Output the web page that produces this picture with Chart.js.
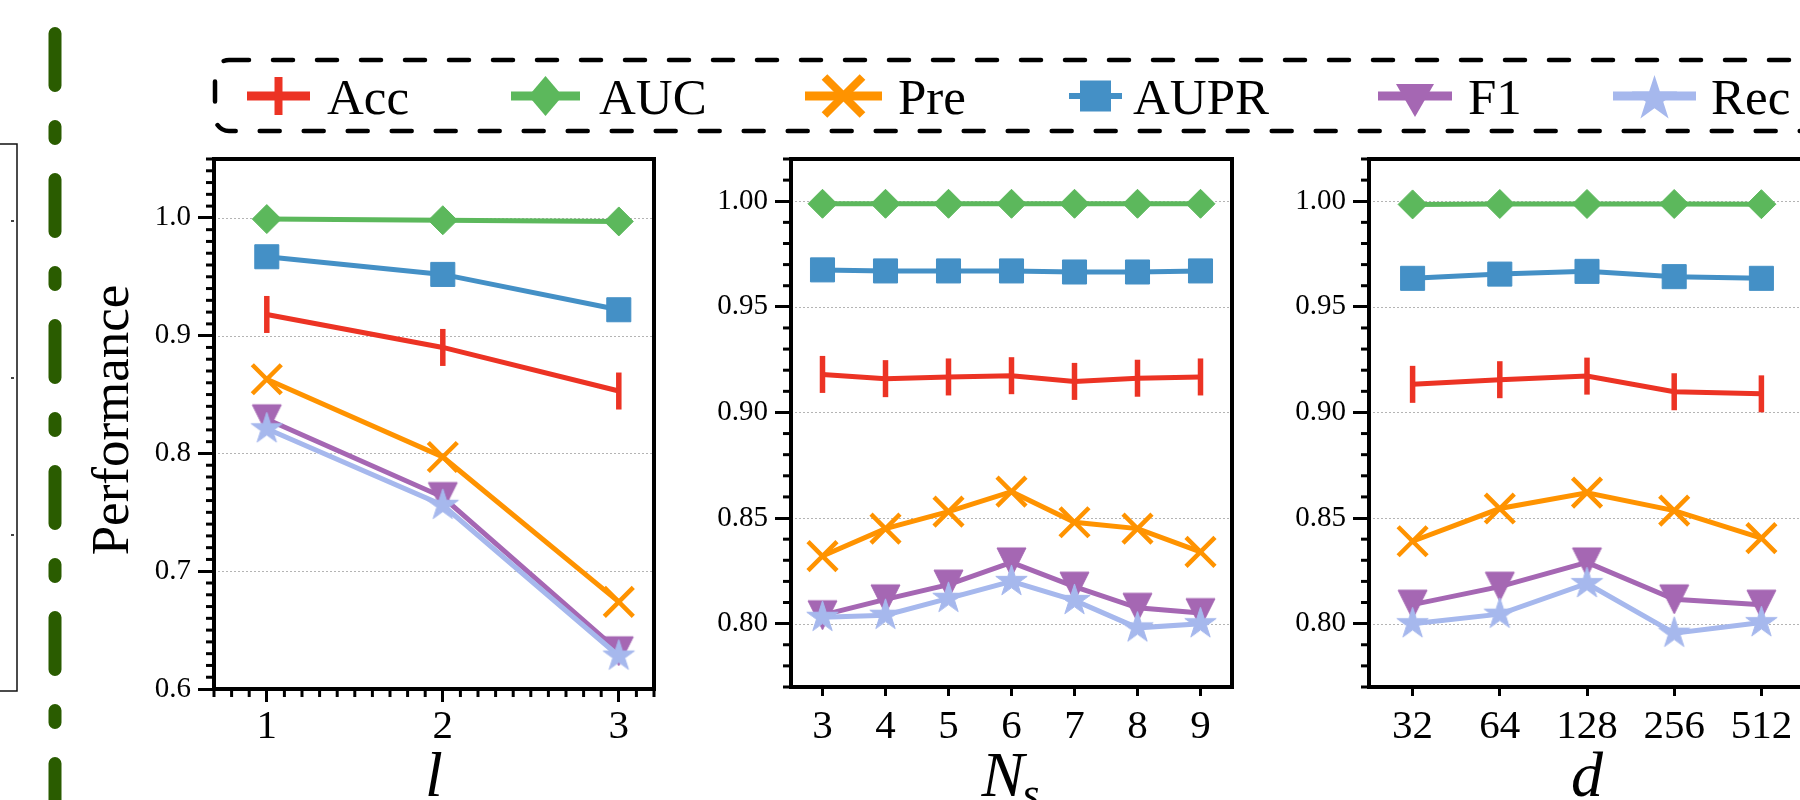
<!DOCTYPE html>
<html>
<head>
<meta charset="utf-8">
<script src="https://cdn.jsdelivr.net/npm/chart.js@4.4.1/dist/chart.umd.min.js"></script>
<style>
html,body{margin:0;padding:0;background:#fff;overflow:hidden;width:1800px;height:800px;position:relative;}
canvas{position:absolute;left:0;top:0;}
</style>
</head>
<body>
<canvas id="deco" width="1800" height="800"></canvas>
<canvas id="p1" width="1800" height="800"></canvas>
<canvas id="p2" width="1800" height="800"></canvas>
<canvas id="p3" width="1830" height="800"></canvas>
<script>
// ---------------- DATA ----------------
const lValues  = [1, 2, 3];
const nsLabels = ['3', '4', '5', '6', '7', '8', '9'];
const dLabels  = ['32', '64', '128', '256', '512'];

// panel 1 : l
const accL  = [0.918, 0.890, 0.853];
const aucL  = [0.999, 0.998, 0.997];
const preL  = [0.863, 0.797, 0.674];
const auprL = [0.967, 0.952, 0.922];
const f1L   = [0.829, 0.763, 0.632];
const recL  = [0.821, 0.756, 0.628];

// panel 2 : N_s
const accN  = [0.918, 0.916, 0.9168, 0.9174, 0.9147, 0.9162, 0.9168];
const aucN  = [0.9988, 0.9988, 0.9988, 0.9988, 0.9988, 0.9988, 0.9988];
const preN  = [0.832, 0.845, 0.853, 0.8625, 0.848, 0.845, 0.834];
const auprN = [0.9675, 0.967, 0.967, 0.967, 0.9665, 0.9665, 0.967];
const f1N   = [0.804, 0.8115, 0.8185, 0.829, 0.8175, 0.8075, 0.805];
const recN  = [0.803, 0.804, 0.812, 0.820, 0.811, 0.798, 0.800];

// panel 3 : d
const accD  = [0.9133, 0.9155, 0.9172, 0.9098, 0.9088];
const aucD  = [0.9985, 0.9987, 0.9987, 0.9987, 0.9986];
const preD  = [0.839, 0.8545, 0.862, 0.8535, 0.8405];
const auprD = [0.9635, 0.9655, 0.9668, 0.9643, 0.9635];
const f1D   = [0.809, 0.8175, 0.829, 0.8115, 0.809];
const recD  = [0.800, 0.8045, 0.819, 0.7955, 0.8005];

const yTicksL = [0.6, 0.7, 0.8, 0.9, 1.0];
const yTicksN = [0.80, 0.85, 0.90, 0.95, 1.00];
const yTicksD = [0.80, 0.85, 0.90, 0.95, 1.00];

const seriesNames = ['Acc', 'AUC', 'Pre', 'AUPR', 'F1', 'Rec'];

// ---------------- STYLE ----------------
const COL = {Acc:'#ec3324', AUC:'#5cb85c', Pre:'#ff9300', AUPR:'#4490c6', F1:'#a567b3', Rec:'#a6b8ed'};
const SERIF = '"Liberation Serif", "Times New Roman", serif';

function markerCanvas(kind, half, color) {
  const s = Math.ceil(half * 2 + 4);
  const c = document.createElement('canvas');
  c.width = s; c.height = s;
  const g = c.getContext('2d');
  const m = s / 2;
  g.fillStyle = color; g.strokeStyle = color; g.lineWidth = 1; g.lineJoin = 'miter';
  g.beginPath();
  if (kind === 'tri') {
    g.moveTo(m - half, m - half); g.lineTo(m + half, m - half); g.lineTo(m, m + half);
  } else {
    const r = half * 0.381966;
    for (let i = 0; i < 10; i++) {
      const a = -Math.PI / 2 + i * Math.PI / 5;
      const rr = (i % 2) ? r : half;
      g.lineTo(m + rr * Math.cos(a), m + rr * Math.sin(a));
    }
  }
  g.closePath(); g.fill(); g.stroke();
  return c;
}
const triMark = markerCanvas('tri', 14.5, COL.F1);
const starMark = markerCanvas('star', 16.5, COL.Rec);

function makeDatasets(xs, acc, auc, pre, aupr, f1, rec) {
  const mk = arr => xs ? arr.map((v, i) => ({x: xs[i], y: v})) : arr;
  const base = {fill: false, tension: 0, borderWidth: 5, pointBorderWidth: 1};
  return [
    Object.assign({}, base, {label:'Acc', data: mk(acc), borderColor: COL.Acc, backgroundColor: COL.Acc,
      pointStyle: 'line', pointRotation: 90, pointRadius: 18.5, pointBorderWidth: 5.5, order: 6}),
    Object.assign({}, base, {label:'AUC', data: mk(auc), borderColor: COL.AUC, backgroundColor: COL.AUC,
      pointStyle: 'rectRot', pointRadius: 14.5, order: 5}),
    Object.assign({}, base, {label:'Pre', data: mk(pre), borderColor: COL.Pre, backgroundColor: COL.Pre,
      pointStyle: 'crossRot', pointRadius: 20.5, pointBorderWidth: 4.5, order: 4}),
    Object.assign({}, base, {label:'AUPR', data: mk(aupr), borderColor: COL.AUPR, backgroundColor: COL.AUPR,
      pointStyle: 'rect', pointRadius: 17, order: 3}),
    Object.assign({}, base, {label:'F1', data: mk(f1), borderColor: COL.F1, backgroundColor: COL.F1,
      pointStyle: triMark, pointRadius: 15, order: 2}),
    Object.assign({}, base, {label:'Rec', data: mk(rec), borderColor: COL.Rec, backgroundColor: COL.Rec,
      pointStyle: starMark, pointRadius: 16, order: 1})
  ];
}

function rangeSteps(a, b, step, exclude) {
  const out = [];
  const n = Math.round((b - a) / step);
  for (let i = 0; i <= n; i++) {
    const v = +(a + i * step).toFixed(4);
    if (!exclude.some(e => Math.abs(e - v) < 1e-6)) out.push(v);
  }
  return out;
}

const framePlugin = {
  id: 'frame',
  beforeDatasetsDraw(chart, args, o) {
    const {ctx, chartArea: a} = chart; const y = chart.scales.y;
    ctx.save();
    ctx.strokeStyle = '#b4b4b4'; ctx.lineWidth = 1; ctx.setLineDash([2, 2]);
    for (const v of o.grid) {
      const py = Math.round(y.getPixelForValue(v)) + 0.5;
      ctx.beginPath(); ctx.moveTo(a.left, py); ctx.lineTo(a.right, py); ctx.stroke();
    }
    ctx.restore();
  },
  afterDatasetsDraw(chart, args, o) {
    const {ctx, chartArea: a} = chart; const x = chart.scales.x, y = chart.scales.y;
    ctx.save();
    ctx.strokeStyle = '#000'; ctx.lineWidth = 3;
    for (const v of o.yMinor) {
      const py = y.getPixelForValue(v);
      ctx.beginPath(); ctx.moveTo(a.left - 8, py); ctx.lineTo(a.left, py); ctx.stroke();
    }
    for (const v of o.xMinor) {
      const px = x.getPixelForValue(v);
      ctx.beginPath(); ctx.moveTo(px, a.bottom); ctx.lineTo(px, a.bottom + 8); ctx.stroke();
    }
    ctx.lineWidth = 4;
    ctx.strokeRect(a.left, a.top, a.right - a.left, a.bottom - a.top);
    // axis titles
    ctx.fillStyle = '#000';
    ctx.textBaseline = 'alphabetic';
    const cx = (a.left + a.right) / 2;
    if (o.xSub) {
      ctx.font = 'italic 64px ' + SERIF;
      const w1 = ctx.measureText(o.xTitle).width;
      ctx.font = 'italic 44px ' + SERIF;
      const w2 = ctx.measureText(o.xSub).width;
      const start = cx - (w1 + w2) / 2;
      ctx.textAlign = 'left';
      ctx.font = 'italic 64px ' + SERIF;
      ctx.fillText(o.xTitle, start, 796);
      ctx.font = 'italic 44px ' + SERIF;
      ctx.fillText(o.xSub, start + w1 - 2, 808);
    } else {
      ctx.font = 'italic 64px ' + SERIF;
      ctx.textAlign = 'center';
      ctx.fillText(o.xTitle, cx, 796);
    }
    if (o.yTitle) {
      ctx.save();
      ctx.translate(128, 420);
      ctx.rotate(-Math.PI / 2);
      ctx.font = '53px ' + SERIF;
      ctx.textAlign = 'center';
      ctx.fillText(o.yTitle, 0, 0);
      ctx.restore();
    }
    ctx.restore();
  }
};

function yScale(min, max, ticks, dec) {
  return {
    type: 'linear', position: 'left', min: min, max: max,
    afterBuildTicks: s => { s.ticks = ticks.map(v => ({value: v})); },
    afterFit: s => { s.width = 150; },
    ticks: {callback: v => Number(v).toFixed(dec), color: '#000', padding: 7,
            font: {family: SERIF, size: 29}, autoSkip: false},
    grid: {drawOnChartArea: false, drawTicks: true, tickLength: 16, tickWidth: 3, tickColor: '#000'},
    border: {display: false}
  };
}

function baseOptions(pad, xScaleCfg, yScaleCfg, frameOpts) {
  return {
    responsive: false, animation: false, events: [],
    layout: {padding: pad},
    plugins: {legend: {display: false}, tooltip: {enabled: false}, frame: frameOpts},
    scales: {x: xScaleCfg, y: yScaleCfg}
  };
}

// ---------------- PANEL 1 ----------------
new Chart(document.getElementById('p1'), {
  type: 'line',
  data: {datasets: makeDatasets(lValues, accL, aucL, preL, auprL, f1L, recL)},
  options: baseOptions({left: 64, right: 1146, top: 159, bottom: 31}, {
      type: 'linear', position: 'bottom', min: 0.7, max: 3.2,
      afterBuildTicks: s => { s.ticks = lValues.map(v => ({value: v})); },
      afterFit: s => { s.height = 80; },
      ticks: {callback: v => String(v), color: '#000', padding: 1, maxRotation: 0, autoSkip: false,
              font: {family: SERIF, size: 41}},
      grid: {drawOnChartArea: false, drawTicks: true, tickLength: 13, tickWidth: 3, tickColor: '#000'},
      border: {display: false}
    },
    yScale(0.6, 1.05, yTicksL, 1),
    {grid: yTicksL, yMinor: rangeSteps(0.6, 1.05, 0.01, yTicksL), xMinor: rangeSteps(0.7, 3.2, 0.1, lValues),
     xTitle: 'l', yTitle: 'Performance'}),
  plugins: [framePlugin]
});

// ---------------- PANEL 2 ----------------
function catX() {
  return {
    type: 'category', position: 'bottom', offset: true,
    afterFit: s => { s.height = 80; },
    ticks: {color: '#000', padding: 7, maxRotation: 0, autoSkip: false, font: {family: SERIF, size: 41}},
    grid: {offset: false, drawOnChartArea: false, drawTicks: true, tickLength: 9, tickWidth: 3, tickColor: '#000'},
    border: {display: false}
  };
}
new Chart(document.getElementById('p2'), {
  type: 'line',
  data: {labels: nsLabels, datasets: makeDatasets(null, accN, aucN, preN, auprN, f1N, recN)},
  options: baseOptions({left: 641, right: 568, top: 159, bottom: 33}, catX(),
    yScale(0.77, 1.02, yTicksN, 2),
    {grid: yTicksN, yMinor: rangeSteps(0.77, 1.02, 0.01, yTicksN), xMinor: [], xTitle: 'N', xSub: 's'}),
  plugins: [framePlugin]
});

// ---------------- PANEL 3 ----------------
new Chart(document.getElementById('p3'), {
  type: 'line',
  data: {labels: dLabels, datasets: makeDatasets(null, accD, aucD, preD, auprD, f1D, recD)},
  options: baseOptions({left: 1219, right: 21, top: 159, bottom: 33}, catX(),
    yScale(0.77, 1.02, yTicksD, 2),
    {grid: yTicksD, yMinor: rangeSteps(0.77, 1.02, 0.01, yTicksD), xMinor: [], xTitle: 'd'}),
  plugins: [framePlugin]
});

// ---------------- DECORATION + LEGEND ----------------
const dc = document.getElementById('deco').getContext('2d');
// green dash-dot separator
dc.save();
dc.strokeStyle = '#2a5c00'; dc.lineWidth = 13; dc.lineCap = 'round';
dc.setLineDash([52, 41, 12, 41]);
dc.beginPath(); dc.moveTo(55, 33.5); dc.lineTo(55, 840); dc.stroke();
dc.restore();
// partial neighbouring axes box at the left edge
dc.save();
dc.strokeStyle = '#111'; dc.lineWidth = 1.5;
dc.beginPath(); dc.moveTo(0, 144); dc.lineTo(17, 144); dc.lineTo(17, 691); dc.lineTo(0, 691); dc.stroke();
dc.fillStyle = '#444';
[221, 378, 535].forEach(yy => dc.fillRect(11, yy - 1, 3, 2));
dc.restore();
// legend frame
function roundRectPath(g, x, y, w, h, r) {
  g.beginPath();
  g.moveTo(x + r, y); g.lineTo(x + w - r, y); g.arcTo(x + w, y, x + w, y + r, r);
  g.lineTo(x + w, y + h - r); g.arcTo(x + w, y + h, x + w - r, y + h, r);
  g.lineTo(x + r, y + h); g.arcTo(x, y + h, x, y + h - r, r);
  g.lineTo(x, y + r); g.arcTo(x, y, x + r, y, r); g.closePath();
}
dc.save();
dc.strokeStyle = '#000'; dc.lineWidth = 4.5; dc.lineCap = 'round'; dc.setLineDash([20, 24]);
roundRectPath(dc, 215, 60, 1660, 71, 14); dc.stroke();
dc.restore();

// legend entries [handleStart, handleEnd, textX]
const legendPos = {Acc: [247, 310, 327], AUC: [511, 580, 599], Pre: [805, 882, 898],
                   AUPR: [1069, 1122, 1133], F1: [1378, 1452, 1468], Rec: [1613, 1696, 1711]};
const LCY = 96;
function legendIcon(name) {
  const [x0, x1] = legendPos[name]; const cx = (x0 + x1) / 2; const c = COL[name];
  dc.save();
  dc.strokeStyle = c; dc.fillStyle = c; dc.lineCap = 'butt';
  dc.lineWidth = (name === 'AUPR') ? 6 : 9;
  dc.beginPath(); dc.moveTo(x0, LCY); dc.lineTo(x1, LCY); dc.stroke();
  dc.beginPath();
  if (name === 'Acc') {
    dc.lineWidth = 8; dc.moveTo(cx, LCY - 19); dc.lineTo(cx, LCY + 19); dc.stroke();
  } else if (name === 'AUC') {
    dc.moveTo(cx, LCY - 20); dc.lineTo(cx + 17, LCY); dc.lineTo(cx, LCY + 20); dc.lineTo(cx - 17, LCY); dc.closePath(); dc.fill();
  } else if (name === 'Pre') {
    dc.lineWidth = 8; const h = 19;
    dc.moveTo(cx - h, LCY - h); dc.lineTo(cx + h, LCY + h); dc.moveTo(cx + h, LCY - h); dc.lineTo(cx - h, LCY + h); dc.stroke();
  } else if (name === 'AUPR') {
    dc.fillRect(cx - 15.5, LCY - 15.5, 31, 31);
  } else if (name === 'F1') {
    dc.moveTo(cx - 19, LCY - 12); dc.lineTo(cx + 19, LCY - 12); dc.lineTo(cx, LCY + 21); dc.closePath(); dc.fill();
  } else if (name === 'Rec') {
    const R = 24, r = R * 0.381966, cy = LCY + 3;
    for (let i = 0; i < 10; i++) {
      const a = -Math.PI / 2 + i * Math.PI / 5; const rr = (i % 2) ? r : R;
      dc.lineTo(cx + rr * Math.cos(a), cy + rr * Math.sin(a));
    }
    dc.closePath(); dc.fill();
  }
  dc.restore();
}
dc.save();
dc.font = '51px ' + SERIF; dc.fillStyle = '#000'; dc.textBaseline = 'alphabetic'; dc.textAlign = 'left';
seriesNames.forEach(n => { legendIcon(n); dc.fillText(n, legendPos[n][2], 114); });
dc.restore();
</script>
</body>
</html>
